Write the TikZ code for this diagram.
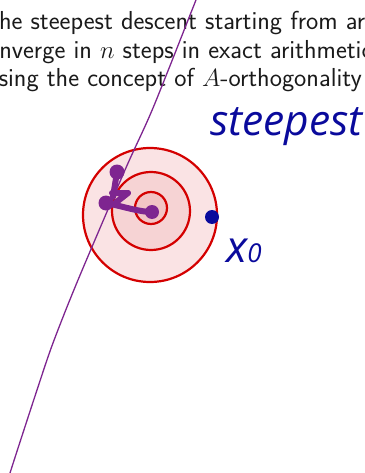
\documentclass[tikz,border=0pt]{standalone}
\usepackage{fontspec}
\newfontfamily\handfont{Open Sans}
\definecolor{txt}{HTML}{1A1A1A}
\definecolor{ink}{HTML}{0A0A9C}
\definecolor{purp}{HTML}{7E2590}
\definecolor{ringred}{HTML}{D40000}
\definecolor{fillA}{HTML}{FAE3E4}
\definecolor{fillB}{HTML}{F6D3D4}
\definecolor{fillC}{HTML}{F2C4C5}
\tikzset{
  ring/.style={circle, draw=ringred, line width=2.2pt, inner sep=0pt},
  pdot/.style={circle, fill=purp, inner sep=0pt, minimum size=15pt},
  bdot/.style={circle, fill=ink, inner sep=0pt, minimum size=14pt},
  pstroke/.style={purp, line width=6pt, line cap=round, line join=round},
  slide/.style={anchor=base west, inner sep=0pt, text=txt, font=\sffamily\fontsize{26}{29}\selectfont},
  hand/.style={anchor=base west, inner sep=0pt, text=ink, font=\handfont\itshape\fontsize{42.5}{42.5}\selectfont},
}
\begin{document}
\begin{tikzpicture}[x=1pt,y=-1pt]
\useasboundingbox (0,0) rectangle (364,473);
\clip (0,0) rectangle (364,473);
% text lines
\node[slide] (l1) at (-10,30) {the steepest descent starting from arbitrary};
\node[slide] (l2) at (-24,58.5) {converge in $n$ steps in exact arithmetic};
\node[slide] (l3) at (-14,87) {using the concept of $A$-orthogonality};
% level sets
\node[ring, fill=fillA, minimum size=134pt] (c1) at (150,215) {};
\node[ring, fill=fillB, minimum size=78pt] (c2) at (151,211) {};
\node[ring, fill=fillC, minimum size=32pt] (c3) at (151,208) {};
% purple curve
\draw[purp, line width=1.3pt] plot[smooth] coordinates {(200,-10) (194,5) (153,108) (125,170) (78,280) (53,343) (37,390) (10,473) (7,485)};
% iterates
\node[pdot] (p1) at (117,172) {};
\node[pdot] (p2) at (106,203) {};
\node[pdot, minimum size=14pt] (p3) at (152,212) {};
\coordinate (k1) at (113,197);
\coordinate (k2) at (112,193);
\coordinate (k3) at (128,193);
\coordinate (k4) at (114,204);
\draw[pstroke] (p1.center) -- (k1);
\draw[pstroke] (k2) -- (k3) -- (k4);
\draw[pstroke] (p2.center) .. controls (125,207) and (140,212) .. (p3.center);
% starting point
\node[bdot] (x0dot) at (212,217) {};
% handwritten labels
\node[hand] (steep) at (210,136) {steepest};
\node[hand, font=\handfont\itshape\fontsize{44}{44}\selectfont] (x0) at (226,262) {x{\fontsize{26}{26}\selectfont 0}};
\end{tikzpicture}
\end{document}
